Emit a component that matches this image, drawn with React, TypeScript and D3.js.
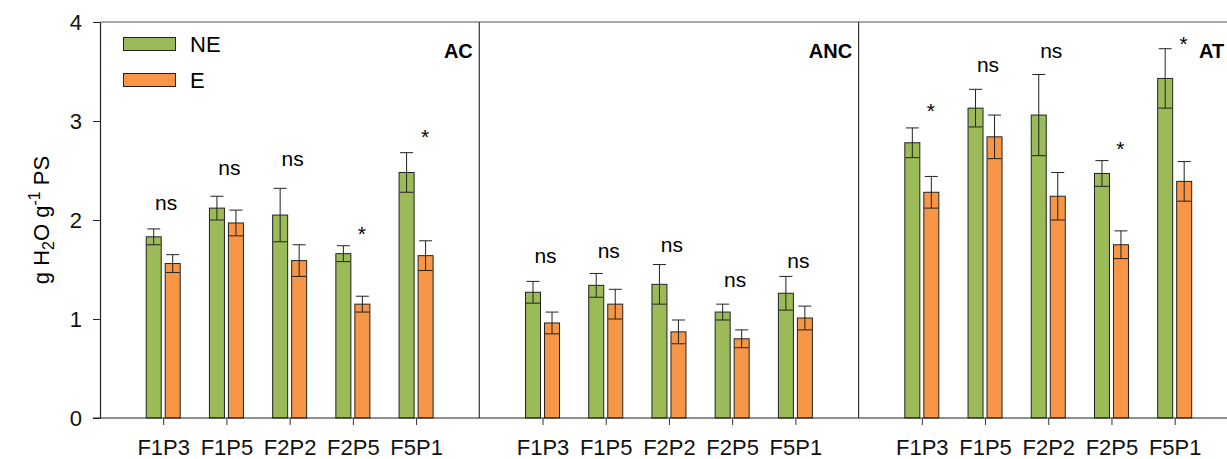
import * as d3 from 'd3'
import React from 'react'

const categories = ['F1P3', 'F1P5', 'F2P2', 'F2P5', 'F5P1']
const panels = ['AC', 'ANC', 'AT']
const seriesNames = ['NE', 'E']
const yTicks = [0, 1, 2, 3, 4]

// means and standard errors, one row per panel
const neMean = [
  [1.83, 2.12, 2.05, 1.66, 2.48],
  [1.27, 1.34, 1.35, 1.07, 1.26],
  [2.78, 3.13, 3.06, 2.47, 3.43],
]
const neErr = [
  [0.08, 0.12, 0.27, 0.08, 0.2],
  [0.11, 0.12, 0.2, 0.08, 0.17],
  [0.15, 0.19, 0.41, 0.13, 0.3],
]
const eMean = [
  [1.56, 1.97, 1.59, 1.15, 1.64],
  [0.96, 1.15, 0.87, 0.8, 1.01],
  [2.28, 2.84, 2.24, 1.75, 2.39],
]
const eErr = [
  [0.09, 0.13, 0.16, 0.08, 0.15],
  [0.11, 0.15, 0.12, 0.09, 0.12],
  [0.16, 0.22, 0.24, 0.14, 0.2],
]
// significance labels and the height (y units) at which they sit
const sigLabel = [
  ['ns', 'ns', 'ns', '*', '*'],
  ['ns', 'ns', 'ns', 'ns', 'ns'],
  ['*', 'ns', 'ns', '*', '*'],
]
const sigHeight = [
  [2.1, 2.45, 2.55, 1.79, 2.77],
  [1.57, 1.62, 1.68, 1.32, 1.52],
  [3.03, 3.49, 3.64, 2.65, 3.71],
]

const colors = ['#9bbb59', '#f79646']
const font = '"Liberation Sans", Arial, sans-serif'

export default function App() {
  const ref = React.useRef<SVGSVGElement>(null)

  React.useEffect(() => {
    const width = 1227, height = 459
    const left = 100, top = 22, bottom = 418
    const panelW = 379.3

    const svg = d3.select(ref.current)
    svg.selectAll('*').remove()
    svg.attr('width', width).attr('height', height).attr('font-family', font)

    const y = d3.scaleLinear().domain([0, 4]).range([bottom, top])

    // frame: top line + panel dividers
    svg.append('line')
      .attr('x1', left).attr('x2', left + panelW * 3)
      .attr('y1', top).attr('y2', top)
      .attr('stroke', '#555').attr('stroke-width', 1.2)
    for (let p = 1; p < 3; p++) {
      svg.append('line')
        .attr('x1', left + panelW * p).attr('x2', left + panelW * p)
        .attr('y1', top).attr('y2', bottom)
        .attr('stroke', '#333').attr('stroke-width', 1.2)
    }

    panels.forEach((name, p) => {
      const x0 = left + panelW * p
      const x = d3.scalePoint<string>().domain(categories).range([x0, x0 + panelW]).padding(1)
      const g = svg.append('g')

      const barW = 15
      const series = [
        { mean: neMean[p], err: neErr[p], dx: -17 },
        { mean: eMean[p], err: eErr[p], dx: 2 },
      ]
      series.forEach((s, si) => {
        g.selectAll(null)
          .data(categories)
          .enter().append('rect')
          .attr('x', (d) => (x(d) as number) + s.dx)
          .attr('y', (d, i) => y(s.mean[i]))
          .attr('width', barW)
          .attr('height', (d, i) => y(0) - y(s.mean[i]))
          .attr('fill', colors[si])
          .attr('stroke', '#222')
          .attr('stroke-width', 1)

        // error bars
        categories.forEach((c, i) => {
          const cx = (x(c) as number) + s.dx + barW / 2
          const hi = y(s.mean[i] + s.err[i])
          const lo = y(s.mean[i] - s.err[i])
          const eb = g.append('g').attr('stroke', '#222').attr('stroke-width', 1)
          eb.append('line').attr('x1', cx).attr('x2', cx).attr('y1', hi).attr('y2', lo)
          eb.append('line').attr('x1', cx - 6.5).attr('x2', cx + 6.5).attr('y1', hi).attr('y2', hi)
          eb.append('line').attr('x1', cx - 7).attr('x2', cx + 7).attr('y1', lo).attr('y2', lo)
        })
      })

      // significance labels
      g.selectAll(null)
        .data(categories)
        .enter().append('text')
        .attr('x', (d, i) => (x(d) as number) + (sigLabel[p][i] === '*' ? 9 : 3))
        .attr('y', (d, i) => y(sigHeight[p][i]))
        .attr('text-anchor', 'middle')
        .attr('font-size', (d, i) => (sigLabel[p][i] === '*' ? 21 : 21))
        .text((d, i) => sigLabel[p][i])

      // x axis ticks + labels
      const xa = g.append('g').attr('transform', `translate(0,${bottom})`)
        .call(d3.axisBottom(x).tickSize(7).tickSizeOuter(0))
      xa.select('.domain').remove()
      xa.selectAll('line').attr('stroke', '#333')
      xa.selectAll('text').attr('font-size', 22).attr('font-family', font)
        .attr('fill', '#111').attr('dy', 0).attr('y', 37)

      // panel name
      svg.append('text')
        .attr('x', p === 2 ? 1199 : x0 + panelW - 6.5)
        .attr('y', 58)
        .attr('text-anchor', p === 2 ? 'start' : 'end')
        .attr('font-size', 20).attr('font-weight', 'bold')
        .text(name)
    })

    // bottom axis line
    svg.append('line')
      .attr('x1', left - 7).attr('x2', width)
      .attr('y1', bottom).attr('y2', bottom)
      .attr('stroke', '#222').attr('stroke-width', 1.2)

    // y axis
    const ya = svg.append('g').attr('transform', `translate(${left},0)`)
      .call(d3.axisLeft(y).tickValues(yTicks).tickFormat(d3.format('d')).tickSize(7).tickSizeOuter(0))
    ya.select('.domain').attr('stroke', '#222').attr('stroke-width', 1.2)
    ya.selectAll('line').attr('stroke', '#222')
    ya.selectAll('text').attr('font-size', 22).attr('font-family', font).attr('fill', '#111').attr('x', -18)

    // y axis title
    const t = svg.append('text')
      .attr('transform', 'translate(49,220) rotate(-90)')
      .attr('text-anchor', 'middle')
      .attr('font-size', 22)
    t.append('tspan').text('g H')
    t.append('tspan').text('2').attr('font-size', 16).attr('dy', 5)
    t.append('tspan').text('O g').attr('dy', -5)
    t.append('tspan').text('-1').attr('font-size', 16).attr('dy', -9)
    t.append('tspan').text(' PS').attr('dy', 9)

    // legend
    const lg = svg.append('g')
    seriesNames.forEach((n, i) => {
      lg.append('rect')
        .attr('x', 123.5).attr('y', 37.5 + i * 36)
        .attr('width', 52).attr('height', 13)
        .attr('fill', colors[i]).attr('stroke', '#222').attr('stroke-width', 1)
      lg.append('text')
        .attr('x', 190).attr('y', 52 + i * 36)
        .attr('font-size', 22)
        .text(n)
    })
  })

  return (
    <svg ref={ref} style={{ position: 'absolute', left: 0, top: 0, background: '#fff' }}></svg>
  )
}
